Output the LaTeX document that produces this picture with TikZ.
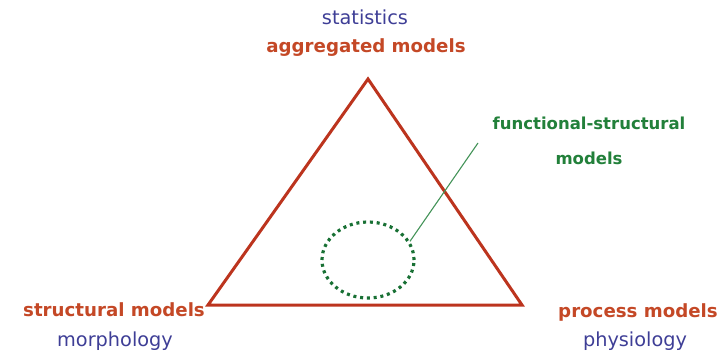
\documentclass[tikz,border=0pt]{standalone}
\usepackage{fontspec}
\setmainfont{DejaVu Sans}
\usepackage{xcolor}
\usepackage{tikz}
\usetikzlibrary{shapes.geometric}

\definecolor{edgered}{RGB}{188,52,30}
\definecolor{textred}{RGB}{196,72,38}
\definecolor{textblue}{RGB}{62,62,150}
\definecolor{textgreen}{RGB}{34,128,58}
\definecolor{dotgreen}{RGB}{24,112,52}

\begin{document}
\begin{tikzpicture}[
x=1pt, y=-1pt,
every node/.style={
    inner sep=0pt,
    align=center
},
modelname/.style={text=textred, font=\fontsize{18.2}{20}\selectfont\bfseries},
fieldname/.style={text=textblue, font=\fontsize{19.3}{21}\selectfont},
fsmname/.style={text=textgreen, font=\fontsize{16.5}{35}\selectfont\bfseries},
edge/.style={draw=edgered, line width=3pt, line join=miter},
pointer/.style={draw=textgreen!85, line width=1.1pt}
]
\useasboundingbox (0,0) rectangle (722,356);

% corners of the triangle
\coordinate (top) at (368,79);
\coordinate (left) at (208,305);
\coordinate (right) at (522,305);

\node[fieldname] (stat) at (365,17) {statistics};
\node[modelname] (aggr) at (366,48) {aggregated models};

\node[modelname] (struct) at (114,310) {structural models};
\node[fieldname] (morph) at (115,341) {morphology};

\node[modelname] (proc) at (638,312) {process models};
\node[fieldname] (phys) at (635,341) {physiology};

\node[fsmname] (fsm) at (589,141) {functional-structural\\models};

\node[ellipse, draw=dotgreen, line width=3.2pt,
      dash pattern=on 3pt off 3.8pt,
      minimum width=92pt, minimum height=76pt] (blob) at (368,260) {};
\coordinate (tip) at (478,143);

\draw[edge] (top) -- (right) -- (left) -- cycle;
\draw[pointer] (blob.24) -- (tip);

\end{tikzpicture}
\end{document}
